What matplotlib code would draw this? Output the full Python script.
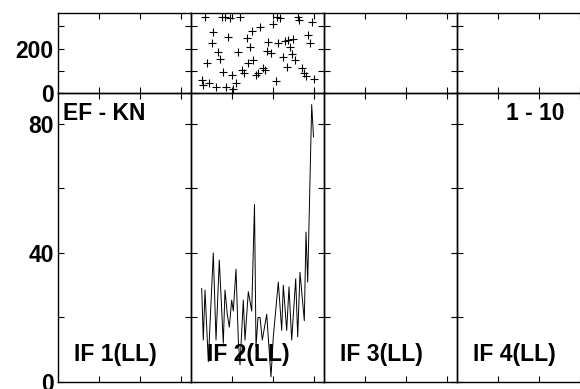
import matplotlib
matplotlib.use("Agg")
import matplotlib.pyplot as plt
import numpy as np

plt.rcParams['font.family'] = ['Liberation Sans', 'DejaVu Sans']
plt.rcParams['font.weight'] = 'bold'

# --- data (x in pixel readings, panel IF 2) ---
phase_x_px = [201.7, 203.3, 205.0, 207.3, 209.3, 211.7, 213.3, 216.0, 218.3, 220.0,
              221.7, 223.3, 225.0, 225.5, 228.3, 230.0, 231.7, 233.3, 236.0, 238.3,
              240.0, 241.7, 244.0, 246.7, 250.0, 251.7, 248.3, 253.3, 256.0, 258.3,
              260.0, 263.3, 265.0, 267.3, 268.3, 270.7, 273.3, 275.5, 276.5, 278.3,
              280.0, 283.3, 285.0, 286.7, 288.3, 290.0, 291.5, 292.5, 295.0, 297.7,
              298.5, 301.7, 304.3, 305.7, 308.0, 309.5, 312.0, 313.8]
phase_deg = [58.5, 36, 340.5, 133.5, 46.5, 225, 273, 25.5, 186, 152,
             343.5, 96, 340, 28, 250.5, 336, 81, 16.5, 46.5, 186,
             340.5, 103, 91, 246, 208, 280.5, 136, 148.5, 81, 88,
             298.5, 111, 103.5, 190.5, 231, 178.5, 312, 54, 340, 226.5,
             336, 160.5, 235.5, 118.5, 238.5, 208.5, 175.5, 241.5, 148.5, 340,
             329, 111, 88.5, 76.5, 262, 226.5, 318, 63]

amp_x_px = [201.7, 203.3, 205.0, 208.3, 213.3, 216.0, 219.3, 223.3, 225.0, 227.3,
            229.3, 231.7, 233.3, 236.0, 238.3, 240.0, 243.3, 245.0, 248.3, 251.7,
            254.5, 256.0, 258.0, 260.0, 262.3, 266.7, 271.0, 273.3, 278.3, 281.7,
            283.3, 286.7, 289.0, 291.7, 295.7, 297.7, 300.0, 304.3, 306.0, 307.7,
            311.7, 313.5]
amp = [29, 13, 28.5, 6.3, 40, 13, 37.8, 12, 28.5, 21,
       17, 25.4, 22, 35, 13, 5.3, 25.4, 13, 28, 22,
       55, 11, 20, 20, 13, 21, 1.6, 14, 31, 16,
       30, 16, 29.5, 13, 32, 14, 34, 19, 46.5, 31,
       86, 76]

panel_labels = ['IF 1(LL)', 'IF 2(LL)', 'IF 3(LL)', 'IF 4(LL)']
source_label = 'EF - KN'
range_label = '1 - 10'

# convert pixel readings to tick units (panel starts at x=191 px, 41 px per unit)
phase_x = (np.array(phase_x_px) - 191) / 41.0
amp_x = (np.array(amp_x_px) - 191) / 41.0

W, H = 580, 389
fig = plt.figure(figsize=(W / 100, H / 100), dpi=100)

left0 = 58 / W
colw = 133 / W
top_b = 1 - 93 / H
top_h = 80 / H
bot_b = 1 - 382 / H
bot_h = 289 / H

xmax = 133 / 41.0
fs = 16.5

for i in range(4):
    l = left0 + i * colw
    axt = fig.add_axes([l, top_b, colw, top_h])
    axb = fig.add_axes([l, bot_b, colw, bot_h])
    for ax in (axt, axb):
        ax.set_xlim(0, xmax)
        ax.set_xticks([1, 2, 3])
        ax.set_xticklabels([])
        ax.tick_params(direction='in', length=4, width=0.8, top=True, right=True,
                       labelsize=fs, pad=3)
        for s in ax.spines.values():
            s.set_linewidth(1.0)
        ax.patch.set_alpha(0)
    axt.set_ylim(0, 360)
    axt.set_yticks([0, 100, 200, 300])
    axb.set_ylim(0, 89.6)
    axb.set_yticks([0, 20, 40, 60, 80])
    if i == 0:
        axt.set_yticklabels(['0', '', '200', ''], fontweight='bold')
        axb.set_yticklabels(['0', '', '40', '', '80'], fontweight='bold')
        axb.text(0.035, 0.907, source_label, transform=axb.transAxes, fontsize=fs,
                 fontweight='bold', ha='left', va='baseline')
    else:
        axt.set_yticklabels([])
        axb.set_yticklabels([])
    if i == 1:
        axt.scatter(phase_x, phase_deg, marker='+', s=34, c='black', linewidths=0.8)
        axb.plot(amp_x, amp, color='black', linewidth=0.7)
    if i == 3:
        axb.text(0.805, 0.907, range_label, transform=axb.transAxes, fontsize=fs,
                 fontweight='bold', ha='right', va='baseline')
    axb.text(0.12, 0.072, panel_labels[i], transform=axb.transAxes, fontsize=fs,
             fontweight='bold', ha='left', va='baseline')

fig.savefig('out.png', dpi=100)
